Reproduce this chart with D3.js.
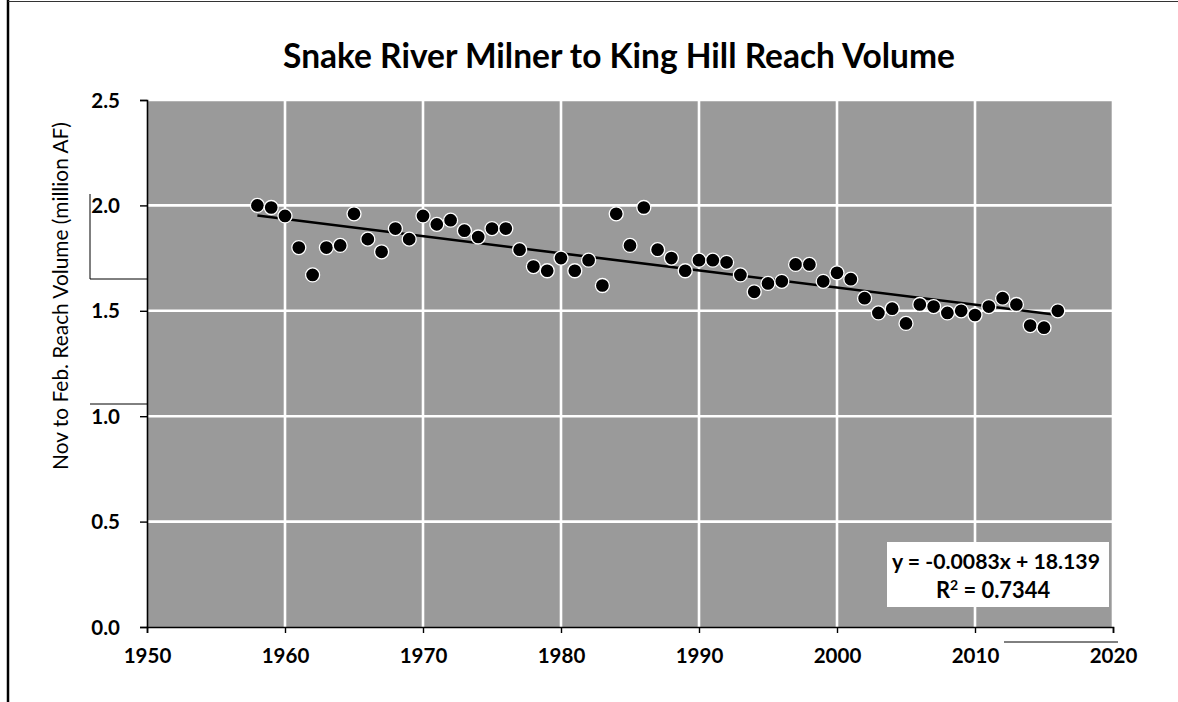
<!DOCTYPE html>
<html>
<head>
<meta charset="utf-8">
<script src="https://cdn.jsdelivr.net/npm/d3@7"></script>
<style>
  html, body { margin: 0; padding: 0; background: #fff; }
  svg { display: block; }
  text { font-family: Lato, "Noto Sans", sans-serif; fill: #000; }
</style>
</head>
<body>
<svg id="chart" width="1178" height="702"></svg>
<script>
// ---- data ----
const years = [1958,1959,1960,1961,1962,1963,1964,1965,1966,1967,1968,1969,
  1970,1971,1972,1973,1974,1975,1976,1977,1978,1979,1980,1981,1982,1983,1984,
  1985,1986,1987,1988,1989,1990,1991,1992,1993,1994,1995,1996,1997,1998,1999,
  2000,2001,2002,2003,2004,2005,2006,2007,2008,2009,2010,2011,2012,2013,2014,
  2015,2016];
const volumes = [2.00,1.99,1.95,1.80,1.67,1.80,1.81,1.96,1.84,1.78,1.89,1.84,
  1.95,1.91,1.93,1.88,1.85,1.89,1.89,1.79,1.71,1.69,1.75,1.69,1.74,1.62,1.96,
  1.81,1.99,1.79,1.75,1.69,1.74,1.74,1.73,1.67,1.59,1.63,1.64,1.72,1.72,1.64,
  1.68,1.65,1.56,1.49,1.51,1.44,1.53,1.52,1.49,1.50,1.48,1.52,1.56,1.53,1.43,
  1.42,1.50];
const xTicks = [1950,1960,1970,1980,1990,2000,2010,2020];
const yTicks = [0.0,0.5,1.0,1.5,2.0,2.5];
const titleText = "Snake River Milner to King Hill Reach Volume";
const yAxisTitle = "Nov to Feb. Reach Volume (million AF)";
const equationText = "y = -0.0083x + 18.139";
const r2Label = "0.7344";

// ---- layout ----
const svg = d3.select("#chart");
const pL = 147, pR = 1113, pT = 100, pB = 627;
const x = d3.scaleLinear().domain([1950, 2020]).range([pL, pR]);
const y = d3.scaleLinear().domain([0, 2.5]).range([pB, pT]);

function fitWidth(sel, target) {
  const w = sel.node().getComputedTextLength();
  const fs = parseFloat(sel.attr("font-size"));
  sel.attr("font-size", fs * target / w);
}

// scan artefacts (page edges / lines)
svg.append("line").attr("x1", 8).attr("x2", 8).attr("y1", 0).attr("y2", 702)
  .attr("stroke", "#000").attr("stroke-width", 2.5);
svg.append("line").attr("x1", 8).attr("x2", 1178).attr("y1", 1.5).attr("y2", 1.5)
  .attr("stroke", "#333").attr("stroke-width", 1);
svg.append("path").attr("d", "M90,194 V279 H147 M90,404 H147 M1004,642 H1118")
  .attr("fill", "none").attr("stroke", "#000").attr("stroke-width", 1);

// plot area
svg.append("rect").attr("x", pL).attr("y", pT)
  .attr("width", pR - pL).attr("height", pB - pT)
  .attr("fill", "#9a9a9a");

// gridlines
const grid = svg.append("g");
grid.selectAll("line.v").data(xTicks.slice(1)).join("line")
  .attr("x1", d => x(d)).attr("x2", d => x(d)).attr("y1", pT).attr("y2", pB)
  .attr("stroke", "#fff").attr("stroke-width", 2.6);
grid.selectAll("line.h").data(yTicks.slice(1)).join("line")
  .attr("x1", pL).attr("x2", pR).attr("y1", d => y(d)).attr("y2", d => y(d))
  .attr("stroke", "#fff").attr("stroke-width", 2.6);

// axes
const xAxis = d3.axisBottom(x).tickValues(xTicks).tickSize(6).tickFormat(d3.format("d"));
const yAxis = d3.axisLeft(y).tickValues(yTicks).tickSize(7).tickFormat(d3.format(".1f"));
const gx = svg.append("g").attr("transform", `translate(0,${pB})`).call(xAxis);
const gy = svg.append("g").attr("transform", `translate(${pL},0)`).call(yAxis);
[gx, gy].forEach(g => {
  g.select(".domain").attr("stroke", "#000").attr("stroke-width", 1.6);
  g.selectAll(".tick line").attr("stroke", "#000").attr("stroke-width", 1.4);
  g.selectAll(".tick text").attr("font-family", "Lato, sans-serif")
    .attr("font-weight", "bold").attr("font-size", 20.5).attr("fill", "#000");
});
gx.selectAll(".tick text").attr("dy", 0).attr("y", 36);
gy.selectAll(".tick text").attr("x", -27).attr("dy", "0.35em");

// regression line computed from data
const n = years.length;
const mx = d3.mean(years), my = d3.mean(volumes);
let sxy = 0, sxx = 0;
for (let i = 0; i < n; i++) { sxy += (years[i] - mx) * (volumes[i] - my); sxx += (years[i] - mx) ** 2; }
const slope = sxy / sxx, icpt = my - slope * mx;
const xa = d3.min(years), xb = d3.max(years);
svg.append("line")
  .attr("x1", x(xa)).attr("y1", y(icpt + slope * xa))
  .attr("x2", x(xb)).attr("y2", y(icpt + slope * xb))
  .attr("stroke", "#000").attr("stroke-width", 2.6);

// points
svg.append("g").selectAll("circle").data(years).join("circle")
  .attr("cx", d => x(d)).attr("cy", (d, i) => y(volumes[i]))
  .attr("r", 7).attr("fill", "#000").attr("stroke", "#fff").attr("stroke-width", 1.3);

// equation box
svg.append("rect").attr("x", 887).attr("y", 542).attr("width", 222).attr("height", 65)
  .attr("fill", "#fff");
const eq = svg.append("text").attr("x", 996).attr("y", 569).attr("text-anchor", "middle")
  .attr("font-size", 20).attr("font-weight", "bold").text(equationText);
fitWidth(eq, 208);
const r2 = svg.append("text").attr("x", 993).attr("y", 598).attr("text-anchor", "middle")
  .attr("font-size", 20).attr("font-weight", "bold");
r2.append("tspan").text("R");
r2.append("tspan").attr("baseline-shift", "super").attr("font-size", 14).text("2");
r2.append("tspan").text(" = " + r2Label);
fitWidth(r2, 115);

// title
const t = svg.append("text").attr("x", 619).attr("y", 68).attr("text-anchor", "middle")
  .attr("font-size", 30).attr("font-weight", "bold").text(titleText);
fitWidth(t, 672);

// y-axis title
const yt = svg.append("text").attr("transform", "translate(68,296) rotate(-90)")
  .attr("text-anchor", "middle").attr("font-size", 18).text(yAxisTitle);
fitWidth(yt, 348);
</script>
</body>
</html>
